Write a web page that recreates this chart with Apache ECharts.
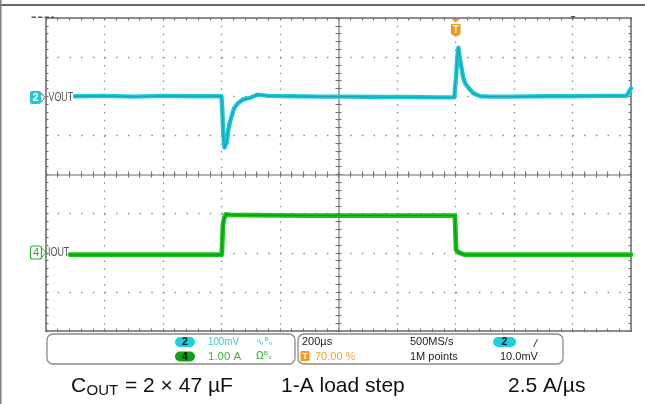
<!DOCTYPE html>
<html><head><meta charset="utf-8">
<script src="https://cdn.jsdelivr.net/npm/echarts@6/dist/echarts.min.js"></script>
<style>html,body{margin:0;padding:0;background:#fff}#c{width:645px;height:404px}</style>
</head><body><div id="c"></div>
<script>
// ---- data ----
// time relative to trigger, µs (200 µs/div, trigger at 70 %)
const voutTimeUs = [-1301, -1200, -1100, -1000, -900, -800, -797, -794, -790, -786, -782, -778, -772, -766, -757, -744, -726, -702, -678, -640, -560, -460, -360, -260, -160, -60, -4, 2, 6, 10, 15, 20, 26, 34, 43, 60, 85, 120, 200, 300, 400, 500, 585, 600];
// VOUT AC deviation, mV (100 mV/div)
const voutMv = [0, 1, -1, 1, 0, 0, -40, -100, -131, -128, -118, -90, -69, -52, -31, -18, -8, -4, 4, 1, 0, -1, -1, -2, -2, -3, -3, 50, 100, 124, 97, 75, 49, 32, 23, 8, 0, -1, -1, 0, 0, 1, 1, 20];
const ioutTimeUs = [-1318, -1200, -1000, -900, -799, -795, -791, -785, -770, -700, -500, -300, -100, -2, 2, 8, 20, 32, 100, 300, 600];
// IOUT, A (1 A/div)
const ioutA = [0, 0, 0, 0, 0, 0.77, 0.93, 1.03, 1.02, 1.01, 1.0, 1.0, 1.0, 1.0, 0.13, 0.07, 0.03, 0, 0, 0, 0];
const timeRangeUs = [-1400, 600];
const voutRangeMv = [-600, 200];
const ioutRangeA = [-1.95, 6.05];
const channelNames = ['VOUT', 'IOUT'];
const channelScales = ['100mV', '1.00 A'];
const timebaseTexts = ['200µs', '70.00 %', '500MS/s', '1M points', '10.0mV'];
const footerTexts = ['C', 'OUT', '= 2 × 47 µF', '1-A load step', '2.5 A/µs'];

const FF = '"Liberation Sans", Arial, sans-serif';
const GRID = {left: 46, top: 18, width: 585, height: 313};
const CYAN = '#1ec8d6', GREEN = '#17c617';

function hidden(extra) {
  return Object.assign({type: 'value', show: false, splitLine: {show: false}}, extra);
}
function divX(extra) {
  return Object.assign({type: 'value', min: -5, max: 5, interval: 1, axisLabel: {show: false}, splitLine: {show: false}}, extra);
}
function divY(extra) {
  return Object.assign({type: 'value', min: -4, max: 4, interval: 1, axisLabel: {show: false}, splitLine: {show: false}}, extra);
}
const tickStyle = {color: '#6e6e6e', width: 1};
function ticks(inside, len) {
  return {
    axisTick: {show: true, inside: inside, length: len, lineStyle: tickStyle},
    minorTick: {show: true, splitNumber: 5, length: len, lineStyle: tickStyle}
  };
}

const xAxis = [
  divX({position: 'bottom', axisLine: {show: false, onZero: false}, axisTick: {show: false},
        splitLine: {show: true, lineStyle: {color: '#8a8a8a', width: 1.3, type: [1.5, 6.325]}}}),
  hidden({min: timeRangeUs[0], max: timeRangeUs[1], position: 'bottom', axisLine: {onZero: false}}),
  divX(Object.assign({position: 'bottom', axisLine: {show: true, onZero: true, onZeroAxisIndex: 0, lineStyle: {color: '#9c9c9c', width: 1.6}}}, ticks(false, 3))),
  divX(Object.assign({position: 'bottom', axisLine: {show: false, onZero: true, onZeroAxisIndex: 0}}, ticks(true, 3))),
  divX(Object.assign({position: 'top', axisLine: {show: false, onZero: false}}, ticks(true, 2.5))),
  divX(Object.assign({position: 'bottom', axisLine: {show: false, onZero: false}}, ticks(true, 2.5)))
];
const yAxis = [
  divY({position: 'left', axisLine: {show: false, onZero: false}, axisTick: {show: false},
        splitLine: {show: true, lineStyle: {color: '#8a8a8a', width: 1.3, type: [1.5, 10.2]}}}),
  hidden({min: voutRangeMv[0], max: voutRangeMv[1], position: 'left', axisLine: {onZero: false}}),
  hidden({min: ioutRangeA[0], max: ioutRangeA[1], position: 'right', axisLine: {onZero: false}}),
  divY(Object.assign({position: 'left', axisLine: {show: true, onZero: true, onZeroAxisIndex: 0, lineStyle: {color: '#9c9c9c', width: 1.6}}}, ticks(false, 3))),
  divY(Object.assign({position: 'left', axisLine: {show: false, onZero: true, onZeroAxisIndex: 0}}, ticks(true, 3))),
  divY(Object.assign({position: 'left', axisLine: {show: false, onZero: false}}, ticks(true, 2.5))),
  divY(Object.assign({position: 'right', axisLine: {show: false, onZero: false}}, ticks(true, 2.5)))
];

const voutData = voutTimeUs.map((t, i) => [t, voutMv[i]]);
const ioutData = ioutTimeUs.map((t, i) => [t, ioutA[i]]);
function trace(data, yIdx, color, width, z) {
  return {type: 'line', xAxisIndex: 1, yAxisIndex: yIdx, data: data, symbol: 'none', showSymbol: false,
          silent: true, z: z, lineStyle: {color: color, width: width, join: 'round', cap: 'round'}};
}
const series = [
  trace(voutData, 1, CYAN, 4.4, 3),
  trace(voutData, 1, '#12a9b6', 1.3, 4),
  trace(ioutData, 2, GREEN, 4.8, 3),
  trace(ioutData, 2, '#0c9f0c', 1.5, 4)
];

function txt(x, y, s, opt) {
  opt = opt || {};
  const st = {text: s, fill: opt.fill || '#222', fontSize: opt.size || 11, fontFamily: opt.family || FF,
              fontWeight: opt.weight || 'normal',
              align: opt.align || 'left', verticalAlign: opt.valign || 'middle',
              textAlign: opt.align || 'left', textVerticalAlign: opt.valign || 'middle'};
  const el = {type: 'text', x: x, y: y, z: 20, style: st};
  if (opt.scaleX) el.scaleX = opt.scaleX;
  return el;
}
function rect(x, y, w, h, r, fill, stroke, lw) {
  return {type: 'rect', z: 19, shape: {x: x, y: y, width: w, height: h, r: r},
          style: {fill: fill || 'none', stroke: stroke || 'none', lineWidth: lw || 1}};
}
function line(x1, y1, x2, y2, stroke, lw, dash) {
  const st = {stroke: stroke, lineWidth: lw};
  if (dash) st.lineDash = dash;
  return {type: 'line', z: 19, shape: {x1: x1, y1: y1, x2: x2, y2: y2}, style: st};
}
function poly(points, fill, stroke, lw) {
  return {type: fill ? 'polygon' : 'polyline', z: 19, shape: {points: points},
          style: {fill: fill || 'none', stroke: stroke || 'none', lineWidth: lw || 1}};
}

const graphic = [
  // page frame
  line(0, 5, 645, 5, '#333', 1.5),
  line(0.75, 0, 0.75, 404, '#808080', 1.5),
  // top-left marker and top markers
  line(31.5, 17.3, 54, 17.3, '#555', 1.5, [4.5, 2]),
  poly([[466.5, 16.5], [469.5, 16.5], [468, 18.5]], '#aaa'),
  poly([[570.5, 16], [575.5, 16], [573, 18.8]], '#555'),
  // trigger marker
  poly([[451.5, 19], [460, 19], [455.75, 22.5]], '#f5961e'),
  poly([[451, 24], [460.5, 24], [460.5, 34], [455.75, 37], [451, 34]], '#f5961e'),
  txt(455.75, 30, 'T', {fill: '#fff', size: 10, weight: 'bold', align: 'center'}),
  // channel 2 label (VOUT)
  rect(30, 91, 11, 13, 2, '#22c6d6'),
  txt(35.5, 97.7, '2', {fill: '#fff', size: 11, weight: 'bold', align: 'center'}),
  poly([[41, 93], [45, 97.5], [41, 102]], null, '#555', 1),
  txt(48.5, 97, channelNames[0], {fill: '#555', size: 13.5, scaleX: 0.66}),
  // channel 4 label (IOUT)
  rect(30.5, 246, 11, 13, 2, '#fff', '#2bb02b', 1.2),
  txt(36, 252.7, '4', {fill: '#2bb02b', size: 11, align: 'center'}),
  poly([[41.5, 247.5], [46, 252.5], [41.5, 257.5]], null, '#2bb02b', 1),
  txt(48, 252.5, channelNames[1], {fill: '#555', size: 13.5, scaleX: 0.66}),
  // info boxes
  rect(47, 334, 248, 30, 6, 'none', '#8a8a8a', 1.3),
  rect(298, 334, 265, 30, 6, 'none', '#8a8a8a', 1.3),
  rect(175, 337, 20, 10, 5, '#1fd0de'),
  txt(185, 342.3, '2', {fill: '#111', size: 10.5, weight: 'bold', align: 'center'}),
  rect(175, 351.5, 20, 10, 5, '#139e13'),
  txt(185, 356.8, '4', {fill: '#111', size: 10.5, weight: 'bold', align: 'center'}),
  txt(208, 342, channelScales[0], {fill: '#38c9d6', size: 11.5, scaleX: 0.85}),
  txt(208, 356.5, channelScales[1], {fill: '#3db53d', size: 11.5}),
  txt(256, 342, '∿ᴮᵥ', {fill: '#38c9d6', size: 10, family: '"DejaVu Sans", sans-serif'}),
  txt(256, 356.5, 'Ωᴮᵥ', {fill: '#3db53d', size: 10, family: '"DejaVu Sans", sans-serif'}),
  txt(302, 342, timebaseTexts[0], {fill: '#222', size: 11}),
  rect(300.5, 351, 9, 10, 1.5, '#f39a1e'),
  txt(305, 356.3, 'T', {fill: '#fff', size: 9, weight: 'bold', align: 'center'}),
  txt(315, 356.5, timebaseTexts[1], {fill: '#f5a033', size: 11}),
  txt(410, 342, timebaseTexts[2], {fill: '#222', size: 11}),
  txt(410, 356.5, timebaseTexts[3], {fill: '#222', size: 11}),
  rect(493, 337, 23, 10, 5, '#1fd0de'),
  txt(504.5, 342.3, '2', {fill: '#111', size: 10.5, weight: 'bold', align: 'center'}),
  line(533.5, 347, 537.5, 339, '#333', 1),
  txt(500, 356.5, timebaseTexts[4], {fill: '#222', size: 11}),
  // footer
  txt(71, 386, footerTexts[0], {fill: '#111', size: 21}),
  txt(86.5, 391, footerTexts[1], {fill: '#111', size: 15}),
  txt(125, 386, footerTexts[2], {fill: '#111', size: 21}),
  txt(281, 386, footerTexts[3], {fill: '#111', size: 21}),
  txt(508, 386, footerTexts[4], {fill: '#111', size: 21})
];

const chart = echarts.init(document.getElementById('c'), null, {renderer: 'canvas'});
chart.setOption({
  animation: false,
  backgroundColor: '#fff',
  grid: Object.assign({show: true, borderColor: '#8c8c8c', borderWidth: 2, backgroundColor: '#fff', containLabel: false}, GRID),
  xAxis: xAxis,
  yAxis: yAxis,
  series: series,
  graphic: graphic
});
</script>
</body></html>
